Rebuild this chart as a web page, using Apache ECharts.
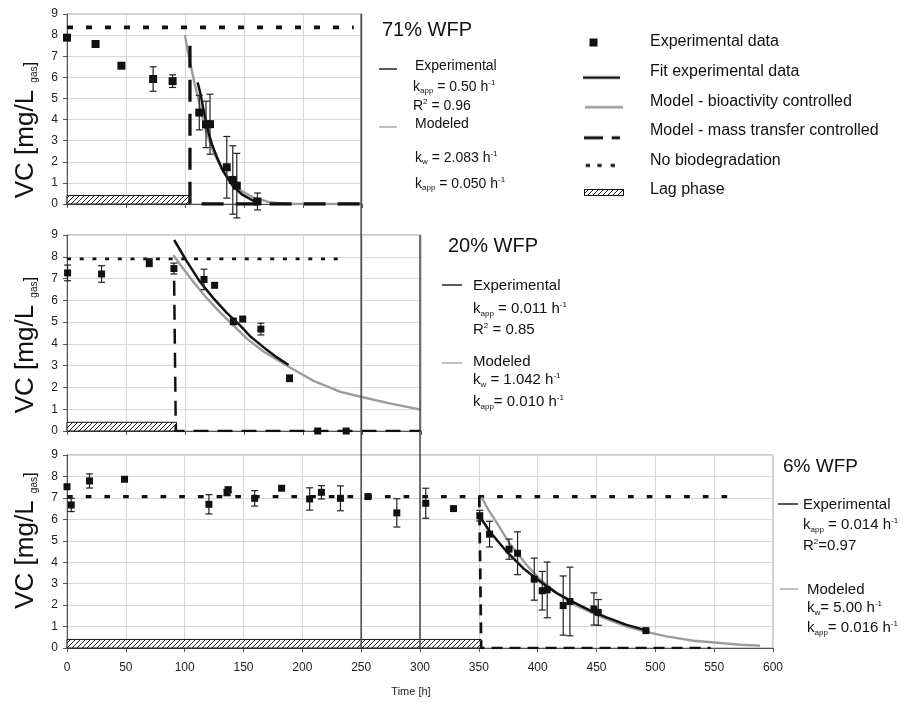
<!DOCTYPE html>
<html>
<head>
<meta charset="utf-8">
<script src="https://cdn.jsdelivr.net/npm/echarts@6/dist/echarts.min.js"></script>
<style>
  html, body { margin: 0; padding: 0; background: #fff; }
  #chart { width: 921px; height: 705px; }
</style>
</head>
<body>
<div id="chart"></div>
<script>
// ---------- 71 % WFP ----------
const wfp71Time = [0, 24.2, 46.1, 73, 89.5, 112.1, 117.8, 121.2, 135.4, 140.5, 143.9, 161.4];
const wfp71VC   = [7.88, 7.58, 6.55, 5.92, 5.82, 4.33, 3.77, 3.78, 1.74, 1.14, 0.87, 0.12];
const wfp71Err  = [0, 0, 0, 0.58, 0.3, 0.82, 1.1, 1.42, 1.46, 1.62, 1.53, 0.4];
const fit71Time = [110.7, 113.3, 115.5, 117.8, 119.8, 122.6, 126.9, 131.1, 135.4, 141, 148.1, 156.7, 162.3];
const fit71VC   = [5.76, 5.16, 4.53, 3.9, 3.42, 2.87, 2.24, 1.69, 1.29, 0.82, 0.46, 0.19, 0.08];
const model71Time = [99.9, 101.9, 104.2, 108.4, 112.6, 116.9, 124, 132.5, 143.9, 158, 172.2, 186.4, 250];
const model71VC   = [8.0, 7.38, 6.74, 5.64, 4.69, 3.59, 2.48, 1.53, 0.74, 0.30, 0.08, 0.0, 0.0];
const mass71Time = [104.2, 104.2, 250];
const mass71VC   = [7.5, 0, 0];
const noBio71Time = [0, 243];
const noBio71VC   = [8.37, 8.37];
const lag71End = 104;

// ---------- 20 % WFP ----------
const wfp20Time = [0.5, 29.3, 69.7, 90.6, 116.1, 125.1, 141, 148.9, 164.3, 188.6, 212.5, 236.6];
const wfp20VC   = [7.26, 7.21, 7.73, 7.46, 6.96, 6.69, 5.03, 5.14, 4.68, 2.42, 0, 0];
const wfp20Err  = [0.36, 0.38, 0.18, 0.25, 0.47, 0, 0.15, 0, 0.27, 0.15, 0, 0];
const fit20Time = [90.8, 101.4, 112.7, 124, 135, 146.7, 155.2, 166.5, 177.9, 187.8];
const fit20VC   = [8.77, 7.8, 6.85, 6.1, 5.45, 4.85, 4.35, 3.85, 3.38, 3.03];
const model20Time = [90, 98.5, 107, 118.4, 129.7, 141, 152.4, 166.5, 187.8, 209, 231.7, 251.6, 274.3, 299.8];
const model20VC   = [8.08, 7.45, 6.85, 6.1, 5.45, 4.85, 4.24, 3.65, 2.95, 2.3, 1.8, 1.54, 1.26, 0.98];
const mass20Time = [90.8, 92.2, 300];
const mass20VC   = [6.9, 0, 0];
const noBio20Time = [0, 234.6];
const noBio20VC   = [7.9, 7.9];
const lag20End = 92.9;

// ---------- 6 % WFP ----------
const wfp6Time = [0, 3.6, 19.1, 48.9, 120.6, 136, 137, 159.5, 182.4, 206.2, 216.2, 232.4, 255.8, 280.3, 304.9,
                  328.5, 350.8, 359.1, 375.7, 382.9, 397.1, 403.9, 408.1, 421.7, 427.4, 447.8, 451.5, 492];
const wfp6VC   = [7.52, 6.67, 7.79, 7.87, 6.7, 7.25, 7.38, 6.98, 7.45, 6.95, 7.26, 6.98, 7.06, 6.3, 6.75,
                  6.5, 6.17, 5.31, 4.61, 4.42, 3.21, 2.67, 2.71, 1.98, 2.17, 1.82, 1.66, 0.81];
const wfp6Err  = [0, 0.31, 0.33, 0.05, 0.45, 0.15, 0.12, 0.36, 0.05, 0.52, 0.31, 0.58, 0.08, 0.66, 0.7,
                  0, 0.25, 0.6, 0.47, 1.0, 0.98, 0.9, 1.3, 1.38, 1.6, 0.75, 0.6, 0.05];
const fit6Time = [350.8, 359.3, 373.5, 387.7, 402, 416.2, 430.3, 444.4, 458.6, 475.6, 492.6];
const fit6VC   = [6.13, 5.43, 4.5, 3.72, 3.1, 2.56, 2.14, 1.75, 1.43, 1.08, 0.82];
const model6Time = [352.3, 358, 364.7, 376.3, 390.5, 402, 416.2, 430.3, 452.9, 475.6, 492.6, 509.6, 532.3, 555, 572, 589];
const model6VC   = [7.03, 6.45, 5.89, 4.86, 3.88, 3.2, 2.56, 2.05, 1.47, 1.0, 0.75, 0.54, 0.34, 0.23, 0.15, 0.11];
const mass6Time = [350.4, 352, 547];
const mass6VC   = [7.07, 0, 0];
const noBio6Time = [0, 565];
const noBio6VC   = [7.06, 7.06];
const lag6End = 352;

const lagTop = 0.4;
const vcTicks = [0, 9, 1];            // min, max, step of the concentration axes
const timeMax = [250, 300, 600];      // upper end of each time axis

const FONT = '"Liberation Sans", Arial, Helvetica, sans-serif';
const INK = '#111';
const GREY_CURVE = '#9c9c9c';

// diagonal hatch used for the lag phase bars
function makeHatch() {
  const c = document.createElement('canvas');
  c.width = 5; c.height = 5;
  const g = c.getContext('2d');
  g.fillStyle = '#fff'; g.fillRect(0, 0, 5, 5);
  g.strokeStyle = '#222'; g.lineWidth = 1;
  g.beginPath();
  for (let i = -5; i <= 10; i += 5) { g.moveTo(i, 5); g.lineTo(i + 5, 0); }
  g.stroke();
  return c;
}
const hatch = makeHatch();

function legendIcon(draw) {
  const c = document.createElement('canvas');
  c.width = 62; c.height = 20;
  const g = c.getContext('2d');
  draw(g);
  return 'image://' + c.toDataURL();
}
function dashLine(g, y, w, color, segs) {
  g.strokeStyle = color; g.lineWidth = w;
  segs.forEach(([a, b]) => { g.beginPath(); g.moveTo(a, y); g.lineTo(b, y); g.stroke(); });
}

const zip = (a, b) => a.map((v, i) => [v, b[i]]);
const zip3 = (a, b, c) => a.map((v, i) => [v, b[i], c[i]]);

function lagRender(params, api) {
  const p0 = api.coord([api.value(0), api.value(2)]);
  const p1 = api.coord([api.value(1), 0]);
  return {
    type: 'rect',
    shape: { x: p0[0], y: p0[1], width: p1[0] - p0[0], height: p1[1] - p0[1] },
    style: { fill: { image: hatch, repeat: 'repeat' }, stroke: '#111', lineWidth: 1 }
  };
}

function errRender(params, api) {
  const x = api.value(0), y = api.value(1), e = api.value(2);
  if (!e) return null;
  const top = api.coord([x, y + e]);
  const bot = api.coord([x, y - e]);
  const cap = 3.5;
  const st = { stroke: '#222', lineWidth: 1.2 };
  return {
    type: 'group',
    children: [
      { type: 'line', shape: { x1: top[0], y1: top[1], x2: bot[0], y2: bot[1] }, style: st },
      { type: 'line', shape: { x1: top[0] - cap, y1: top[1], x2: top[0] + cap, y2: top[1] }, style: st },
      { type: 'line', shape: { x1: bot[0] - cap, y1: bot[1], x2: bot[0] + cap, y2: bot[1] }, style: st }
    ]
  };
}

const panels = [
  { t: wfp71Time, v: wfp71VC, e: wfp71Err, fitT: fit71Time, fitV: fit71VC, modT: model71Time, modV: model71VC,
    massT: mass71Time, massV: mass71VC, nbT: noBio71Time, nbV: noBio71VC, lag: lag71End,
    sym: 8, namePad: [0, 42, 0, 0],
    nbStyle: { width: 3.8, type: [6, 13] }, massStyle: { width: 3.3, type: [22, 12] } },
  { t: wfp20Time, v: wfp20VC, e: wfp20Err, fitT: fit20Time, fitV: fit20VC, modT: model20Time, modV: model20VC,
    massT: mass20Time, massV: mass20VC, nbT: noBio20Time, nbV: noBio20VC, lag: lag20End,
    sym: 7, namePad: [0, 24, 0, 0],
    nbStyle: { width: 2.7, type: [4, 8.7] }, massStyle: { width: 2.5, type: [15, 9] } },
  { t: wfp6Time, v: wfp6VC, e: wfp6Err, fitT: fit6Time, fitV: fit6VC, modT: model6Time, modV: model6VC,
    massT: mass6Time, massV: mass6VC, nbT: noBio6Time, nbV: noBio6VC, lag: lag6End,
    sym: 7, namePad: [0, 0, 0, 22],
    nbStyle: { width: 3.2, type: [5.7, 13] }, massStyle: { width: 2.7, type: [11, 7] } }
];

const grids = [
  { left: 67, top: 14, width: 295, height: 190 },
  { left: 67, top: 235, width: 354, height: 196 },
  { left: 67, top: 455, width: 706, height: 193 }
].map(g => Object.assign(g, { show: true, borderColor: '#9a9a9a', borderWidth: 1, backgroundColor: 'transparent' }));

const axisColor = '#555';
const xAxes = timeMax.map((mx, i) => ({
  type: 'value', gridIndex: i, min: 0, max: mx, interval: 50,
  axisLine: { show: true, onZero: false, lineStyle: { color: axisColor, width: 1 } },
  axisTick: { show: true, length: 4, lineStyle: { color: axisColor } },
  axisLabel: { show: i === 2, fontSize: 12, color: '#222', fontFamily: FONT, margin: 14 },
  splitLine: { show: true, lineStyle: { color: '#d8d8d8', width: 1 } },
  name: i === 2 ? 'Time [h]' : '',
  nameLocation: 'middle', nameGap: 38,
  nameTextStyle: { fontSize: 11, color: '#222', fontFamily: FONT, padding: [0, 18, 0, 0] }
}));

const yAxes = panels.map((p, i) => ({
  type: 'value', gridIndex: i, min: vcTicks[0], max: vcTicks[1], interval: vcTicks[2],
  axisLine: { show: true, onZero: false, lineStyle: { color: axisColor, width: 1 } },
  axisTick: { show: true, length: 4, lineStyle: { color: axisColor } },
  axisLabel: { fontSize: 12, color: '#222', fontFamily: FONT, margin: 9 },
  splitLine: { show: true, lineStyle: { color: '#d8d8d8', width: 1 } },
  name: '{a|VC [mg/L }{s|gas}{b|]}',
  nameLocation: 'middle', nameRotate: 90, nameGap: 28,
  nameTextStyle: {
    color: INK,
    padding: p.namePad,
    rich: {
      a: { fontSize: 26, fontFamily: FONT, color: INK },
      s: { fontSize: 10, fontFamily: FONT, color: INK, verticalAlign: 'bottom', lineHeight: 10 },
      b: { fontSize: 17, fontFamily: FONT, color: INK, verticalAlign: 'bottom', lineHeight: 17 }
    }
  }
}));

const series = [];
panels.forEach((p, i) => {
  const ax = { xAxisIndex: i, yAxisIndex: i };
  series.push(
    { type: 'custom', name: 'Lag phase', ...ax, renderItem: lagRender, data: [[0, p.lag, lagTop]], z: 2, silent: true },
    { type: 'line', name: 'No biodegradation', ...ax, data: zip(p.nbT, p.nbV), symbol: 'none', showSymbol: false,
      lineStyle: { color: INK, width: p.nbStyle.width, type: p.nbStyle.type, cap: 'butt' }, z: 3, silent: true },
    { type: 'line', name: 'Model - bioactivity controlled', ...ax, data: zip(p.modT, p.modV), symbol: 'none',
      showSymbol: false, lineStyle: { color: GREY_CURVE, width: 2.4, join: 'round' }, z: 3, silent: true },
    { type: 'line', name: 'Model - mass transfer controlled', ...ax, data: zip(p.massT, p.massV), symbol: 'none',
      showSymbol: false, lineStyle: { color: INK, width: p.massStyle.width, type: p.massStyle.type, cap: 'butt' },
      z: 4, silent: true },
    { type: 'line', name: 'Fit experimental data', ...ax, data: zip(p.fitT, p.fitV), symbol: 'none',
      showSymbol: false, lineStyle: { color: INK, width: 2.5, join: 'round' }, z: 5, silent: true },
    { type: 'custom', name: 'Standard deviation', ...ax, renderItem: errRender, data: zip3(p.t, p.v, p.e),
      z: 6, silent: true },
    { type: 'scatter', name: 'Experimental data', ...ax, data: zip(p.t, p.v), symbol: 'rect',
      symbolSize: p.sym, itemStyle: { color: INK, opacity: 1 }, z: 7, silent: true }
  );
});

const legendData = [
  { name: 'Experimental data', icon: legendIcon(g => { g.fillStyle = INK; g.fillRect(6.5, 6.5, 8, 8); }) },
  { name: 'Fit experimental data', icon: legendIcon(g => dashLine(g, 16, 2.6, INK, [[0, 37]])) },
  { name: 'Model - bioactivity controlled', icon: legendIcon(g => dashLine(g, 16, 2.6, GREY_CURVE, [[2, 40]])) },
  { name: 'Model - mass transfer controlled', icon: legendIcon(g => dashLine(g, 17, 3, INK, [[1, 20], [28.7, 37]])) },
  { name: 'No biodegradation', icon: legendIcon(g => dashLine(g, 15, 3, INK, [[2.7, 7], [14.3, 18.7], [27.7, 32]])) },
  { name: 'Lag phase', icon: legendIcon(g => {
      const pat = g.createPattern(hatch, 'repeat');
      g.fillStyle = pat; g.fillRect(1, 9, 40, 6);
      g.strokeStyle = INK; g.lineWidth = 1; g.strokeRect(1.5, 9.5, 39, 6);
    }) }
];

// rich text blocks for the fit / model parameters beside each panel
function richFor(size) {
  return {
    n: { fontSize: size, fontFamily: FONT, fill: INK, lineHeight: size + 2 },
    s: { fontSize: 8, fontFamily: FONT, fill: INK, verticalAlign: 'bottom', lineHeight: 8 },
    p: { fontSize: 8, fontFamily: FONT, fill: INK, verticalAlign: 'top', lineHeight: 8 }
  };
}
function note(id, x, y, text, size) {
  return { type: 'text', id, x, y, silent: true, z: 20,
    style: { text, rich: richFor(size), fill: INK, fontSize: size, fontFamily: FONT, align: 'left', verticalAlign: 'middle' } };
}
function keyLine(id, x1, x2, y, color) {
  return { type: 'line', id, silent: true, z: 20, shape: { x1, y1: y, x2, y2: y }, style: { stroke: color, lineWidth: 1.5 } };
}

const notes = [
  note('t71', 382, 30, '{n|71% WFP}', 20),
  keyLine('k71a', 379, 397, 69, '#222'),
  note('e71', 415, 66, '{n|Experimental}', 14),
  note('e71k', 413, 87, '{n|k}{s|app}{n| = 0.50 h}{p|-1}', 14),
  note('e71r', 413, 106, '{n|R}{p|2}{n| = 0.96}', 14),
  keyLine('k71b', 379, 397, 127, '#aaa'),
  note('m71', 415, 124, '{n|Modeled}', 14),
  note('m71w', 415, 158, '{n|k}{s|w}{n| = 2.083 h}{p|-1}', 14),
  note('m71k', 415, 184, '{n|k}{s|app}{n| = 0.050 h}{p|-1}', 14),

  note('t20', 448, 246, '{n|20% WFP}', 20),
  keyLine('k20a', 442, 462, 285, '#222'),
  note('e20', 473, 286, '{n|Experimental}', 15),
  note('e20k', 473, 309, '{n|k}{s|app}{n| = 0.011 h}{p|-1}', 15),
  note('e20r', 473, 330, '{n|R}{p|2}{n| = 0.85}', 15),
  keyLine('k20b', 442, 462, 363, '#aaa'),
  note('m20', 473, 362, '{n|Modeled}', 15),
  note('m20w', 473, 380, '{n|k}{s|w}{n| = 1.042 h}{p|-1}', 15),
  note('m20k', 473, 402, '{n|k}{s|app}{n|= 0.010 h}{p|-1}', 15),

  note('t6', 783, 467, '{n|6% WFP}', 19),
  keyLine('k6a', 778, 798, 504, '#222'),
  note('e6', 803, 505, '{n|Experimental}', 15),
  note('e6k', 803, 525, '{n|k}{s|app}{n| = 0.014 h}{p|-1}', 15),
  note('e6r', 803, 546, '{n|R}{p|2}{n|=0.97}', 15),
  keyLine('k6b', 780, 798, 589, '#aaa'),
  note('m6', 807, 590, '{n|Modeled}', 15),
  note('m6w', 807, 608, '{n|k}{s|w}{n|= 5.00 h}{p|-1}', 15),
  note('m6k', 807, 628, '{n|k}{s|app}{n|= 0.016 h}{p|-1}', 15)
];

const chart = echarts.init(document.getElementById('chart'), null, { renderer: 'canvas' });
chart.setOption({
  animation: false,
  backgroundColor: '#fff',
  textStyle: { fontFamily: FONT },
  grid: grids,
  xAxis: xAxes,
  yAxis: yAxes,
  legend: {
    orient: 'vertical', left: 578, top: 27, padding: 5,
    itemWidth: 62, itemHeight: 20, itemGap: 9.6, selectedMode: false,
    textStyle: { fontSize: 16, color: INK, fontFamily: FONT },
    data: legendData
  },
  series,
  graphic: notes
});

// the right frame edges of the two upper panels run down through the panels below
const x250 = chart.convertToPixel({ xAxisIndex: 2 }, 250);
const x300 = chart.convertToPixel({ xAxisIndex: 2 }, 300);
const yTop71 = chart.convertToPixel({ yAxisIndex: 0 }, vcTicks[1]);
const yTop20 = chart.convertToPixel({ yAxisIndex: 1 }, vcTicks[1]);
const yBase6 = chart.convertToPixel({ yAxisIndex: 2 }, 0);
chart.setOption({
  graphic: [
    { type: 'line', id: 'edge71', silent: true, z: 15, shape: { x1: x250, y1: yTop71, x2: x250, y2: yBase6 },
      style: { stroke: '#444', lineWidth: 1.5 } },
    { type: 'line', id: 'edge20', silent: true, z: 15, shape: { x1: x300, y1: yTop20, x2: x300, y2: yBase6 },
      style: { stroke: '#444', lineWidth: 1.5 } }
  ]
});
</script>
</body>
</html>
